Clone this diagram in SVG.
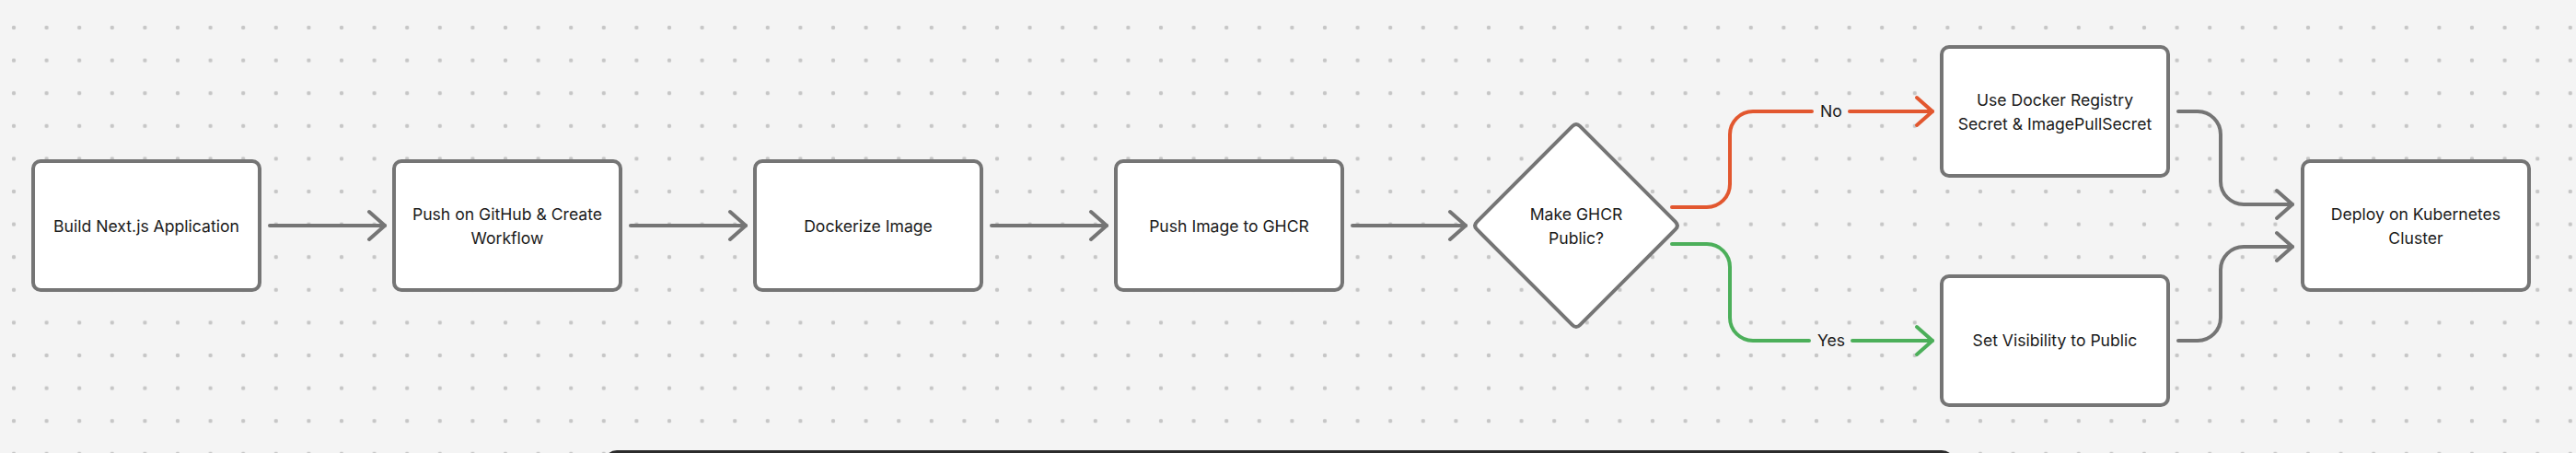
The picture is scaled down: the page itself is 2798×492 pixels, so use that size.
<svg xmlns="http://www.w3.org/2000/svg" width="2798" height="492" viewBox="0 0 2798 492">
  <style>
    .node rect, .node path { fill: #ffffff; stroke: #757575; stroke-width: 4; }
    .lbl { font-family: Inter, "Noto Sans", "Liberation Sans", sans-serif; font-size: 17.6px; fill: #1a1a1a; text-anchor: middle; }
    .edge { fill: none; stroke-width: 4; stroke-linecap: round; stroke-linejoin: round; }
    .gray { stroke: #757575; }
    .red { stroke: #e2572f; }
    .green { stroke: #4caf5a; }
  </style>
  <defs>
    <pattern id="dots" patternUnits="userSpaceOnUse" x="-2.8" y="12.2" width="35.6" height="35.6">
      <circle cx="17.8" cy="17.8" r="2.2" fill="#c6c6c6"/>
    </pattern>
    <marker id="ahGray" markerUnits="userSpaceOnUse" markerWidth="40" markerHeight="40" viewBox="-22 -20 26 40" refX="0" refY="0" orient="auto" overflow="visible">
      <path d="M -17 -15 L 0 0 L -17 15" fill="none" stroke="#757575" stroke-width="4" stroke-linecap="round" stroke-linejoin="round"/>
    </marker>
    <marker id="ahRed" markerUnits="userSpaceOnUse" markerWidth="40" markerHeight="40" viewBox="-22 -20 26 40" refX="0" refY="0" orient="auto" overflow="visible">
      <path d="M -17 -15 L 0 0 L -17 15" fill="none" stroke="#e2572f" stroke-width="4" stroke-linecap="round" stroke-linejoin="round"/>
    </marker>
    <marker id="ahGreen" markerUnits="userSpaceOnUse" markerWidth="40" markerHeight="40" viewBox="-22 -20 26 40" refX="0" refY="0" orient="auto" overflow="visible">
      <path d="M -17 -15 L 0 0 L -17 15" fill="none" stroke="#4caf5a" stroke-width="4" stroke-linecap="round" stroke-linejoin="round"/>
    </marker>
  </defs>

  <rect x="0" y="0" width="2798" height="492" fill="#f4f4f4"/>
  <rect x="0" y="0" width="2798" height="492" fill="url(#dots)"/>

  <g id="connectors">
    <path class="edge gray" d="M 293 245 H 418" marker-end="url(#ahGray)"/>
    <path class="edge gray" d="M 685 245 H 810" marker-end="url(#ahGray)"/>
    <path class="edge gray" d="M 1077 245 H 1202" marker-end="url(#ahGray)"/>
    <path class="edge gray" d="M 1469 245 H 1592" marker-end="url(#ahGray)"/>
    <path class="edge red" d="M 1816 225 H 1854 A 25 25 0 0 0 1879 200 V 146 A 25 25 0 0 1 1904 121 H 1968 M 2009 121 H 2099" marker-end="url(#ahRed)"/>
    <text class="lbl" x="1989" y="127">No</text>
    <path class="edge green" d="M 1816 265 H 1854 A 25 25 0 0 1 1879 290 V 345 A 25 25 0 0 0 1904 370 H 1965 M 2012 370 H 2099" marker-end="url(#ahGreen)"/>
    <text class="lbl" x="1989" y="376">Yes</text>
    <path class="edge gray" d="M 2366 121 H 2387 A 25 25 0 0 1 2412 146 V 197 A 25 25 0 0 0 2437 222 H 2490" marker-end="url(#ahGray)"/>
    <path class="edge gray" d="M 2366 370 H 2387 A 25 25 0 0 0 2412 345 V 293 A 25 25 0 0 1 2437 268 H 2490" marker-end="url(#ahGray)"/>
  </g>

  <g id="build" class="node">
    <rect x="36" y="175" width="246" height="140" rx="8"/>
    <text class="lbl" x="159" y="252">Build Next.js Application</text>
  </g>
  <g id="push-github" class="node">
    <rect x="428" y="175" width="246" height="140" rx="8"/>
    <text class="lbl" x="551" y="239">Push on GitHub &amp; Create</text>
    <text class="lbl" x="551" y="265">Workflow</text>
  </g>
  <g id="dockerize" class="node">
    <rect x="820" y="175" width="246" height="140" rx="8"/>
    <text class="lbl" x="943" y="252">Dockerize Image</text>
  </g>
  <g id="push-ghcr" class="node">
    <rect x="1212" y="175" width="246" height="140" rx="8"/>
    <text class="lbl" x="1335" y="252">Push Image to GHCR</text>
  </g>
  <g id="decision" class="node">
    <path d="M 1707.8 137.2 Q 1712 133 1716.2 137.2 L 1819.8 240.8 Q 1824 245 1819.8 249.2 L 1716.2 352.8 Q 1712 357 1707.8 352.8 L 1604.2 249.2 Q 1600 245 1604.2 240.8 Z"/>
    <text class="lbl" x="1712" y="239">Make GHCR</text>
    <text class="lbl" x="1712" y="265">Public?</text>
  </g>
  <g id="secret" class="node">
    <rect x="2109" y="51" width="246" height="140" rx="8"/>
    <text class="lbl" x="2232" y="115">Use Docker Registry</text>
    <text class="lbl" x="2232" y="141">Secret &amp; ImagePullSecret</text>
  </g>
  <g id="visibility" class="node">
    <rect x="2109" y="300" width="246" height="140" rx="8"/>
    <text class="lbl" x="2232" y="376">Set Visibility to Public</text>
  </g>
  <g id="deploy" class="node">
    <rect x="2501" y="175" width="246" height="140" rx="8"/>
    <text class="lbl" x="2624" y="239">Deploy on Kubernetes</text>
    <text class="lbl" x="2624" y="265">Cluster</text>
  </g>

  <rect x="656" y="489" width="1467" height="40" rx="14" fill="#2b2b2b"/>
</svg>
